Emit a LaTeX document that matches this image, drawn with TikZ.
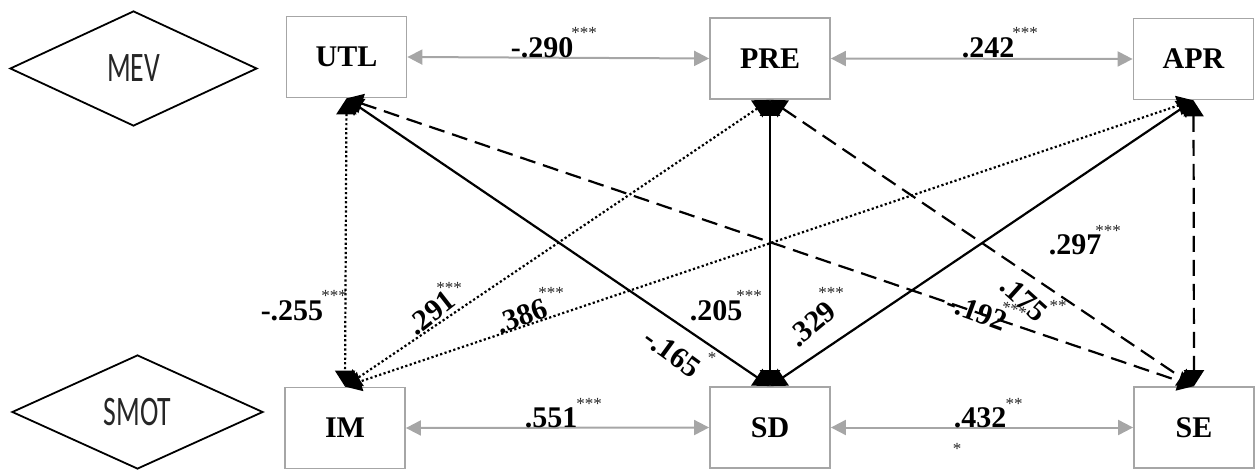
\documentclass[tikz,border=0pt]{standalone}
\usepackage{fontspec}
\setmainfont{Liberation Serif}
\newfontfamily\dsans{Carlito}
\usetikzlibrary{shapes.geometric,arrows.meta}
\definecolor{boxgray}{HTML}{A6A6A6}
\begin{document}
\begin{tikzpicture}[x=1pt,y=-1pt,
 box/.style={draw=boxgray,line width=1.8pt,minimum width=120pt,minimum height=81pt,inner sep=0pt,font=\fontsize{30}{32}\selectfont\bfseries},
 dia/.style={draw=black,line width=1.8pt,shape=diamond,inner sep=0pt,aspect=2.15,text=black!85,font=\dsans\fontsize{42}{44}\selectfont},
 garrow/.style={draw=boxgray,line width=2pt,{Triangle[length=15pt,width=15pt]}-{Triangle[length=15pt,width=15pt]}},
 barrow/.style={draw=black,line width=2.2pt,{Triangle[length=16pt,width=20pt]}-{Triangle[length=16pt,width=20pt]}},
 dotline/.style={dash pattern=on 2.2pt off 2.4pt},
 dashline/.style={dash pattern=on 16pt off 8pt},
 num/.style={inner sep=0pt,font=\fontsize{30}{31}\selectfont\bfseries},
 star/.style={inner sep=0pt,text=black!85,font=\fontsize{17}{17}\selectfont},
]
\useasboundingbox (0,0) rectangle (1255,470);
% diamonds
\node[dia,minimum width=247pt,minimum height=115pt] (mev) at (133.5,68.5) {\scalebox{0.66}[1]{MEV}};
\node[dia,minimum width=251pt,minimum height=114pt] (smot) at (137.5,412) {\scalebox{0.66}[1]{SMOT}};
% boxes
\node[box] (utl) at (346.5,57) {UTL};
\node[box] (pre) at (770,58.5) {PRE};
\node[box] (apr) at (1193.5,59) {APR};
\node[box] (im) at (345,428) {IM};
\node[box] (sd) at (770,427.5) {SD};
\node[box] (se) at (1194,427.5) {SE};
% gray horizontal arrows
\draw[garrow] (utl.east) -- (pre.west);
\draw[garrow] (pre.east) -- (apr.west);
\draw[garrow] (im.east) -- (sd.west);
\draw[garrow] (sd.east) -- (se.west);
% black connectors
\draw[barrow,dotline] (utl.south) -- (im.north);
\draw[barrow] (utl.south) -- (sd.north);
\draw[barrow,dashline] (utl.south) -- (se.north);
\draw[barrow,dotline] (pre.south) -- (im.north);
\draw[barrow] (pre.south) -- (sd.north);
\draw[barrow,dashline] (pre.south) -- (se.north);
\draw[barrow,dotline] (apr.south) -- (im.north);
\draw[barrow] (apr.south) -- (sd.north);
\draw[barrow,dashline] (apr.south) -- (se.north);
% labels
\node[num] (l1) at (542,48) {-.290};
\node[star] (s1) at (584,33) {***};
\node[num] (l2) at (988,48) {.242};
\node[star] (s2) at (1025,33) {***};
\node[num] (l3) at (551,418) {.551};
\node[star] (s3) at (589,404) {***};
\node[num] (l4) at (980,418) {.432};
\node[star] (s4) at (1014,404) {**};
\node[star] (s4b) at (957,449) {*};
\node[num] (l5) at (292,311) {-.255};
\node[star] (s5) at (334,296) {***};
\node[num,rotate=38] (l6) at (431,313) {.291};
\node[star] (s6) at (449,288) {***};
\node[num,rotate=20] (l7) at (522,316) {.386};
\node[star] (s7) at (551,293) {***};
\node[num,rotate=-36] (l8) at (672,353) {-.165};
\node[star] (s8) at (712,358) {*};
\node[num] (l9) at (716,311) {.205};
\node[star] (s9) at (749,296) {***};
\node[num,rotate=40] (l10) at (812,324) {.329};
\node[star] (s10) at (831,293) {***};
\node[num,rotate=-20] (l11) at (977,312) {-.192};
\node[star,rotate=-19] (s11) at (1014,310) {***};
\node[num,rotate=-42] (l12) at (1024,299) {.175};
\node[star] (s12) at (1058,306) {**};
\node[num] (l13) at (1075,245) {.297};
\node[star] (s13) at (1108,231) {***};
\end{tikzpicture}
\end{document}
